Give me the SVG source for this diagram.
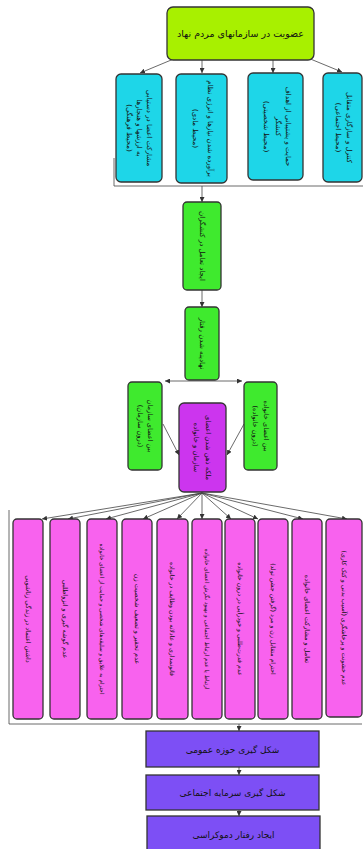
<svg xmlns="http://www.w3.org/2000/svg" width="363" height="849" viewBox="0 0 363 849">
<defs>
<marker id="ah" viewBox="0 0 6 6" refX="6" refY="3" markerWidth="5" markerHeight="5" orient="auto-start-reverse" markerUnits="userSpaceOnUse">
<path d="M0,0 L6,3 L0,6 z" fill="#333"/>
</marker>
<style>
.bx{stroke:#333;stroke-width:1.3}
.lime{fill:#a8f000}
.cyan{fill:#1ed6e8}
.green{fill:#3fea2e}
.mag{fill:#cc35ee}
.pink{fill:#f862ee}
.pur{fill:#7d4ff5}
.t{font-family:"DejaVu Sans",sans-serif;fill:#111;text-anchor:middle;direction:rtl}
.c line,.c polyline{stroke:#444;stroke-width:0.8;fill:none}
.fr{stroke:#aaa;stroke-width:1;fill:none}
</style>
</defs>
<rect width="363" height="849" fill="#fff"/>

<g class="c" id="connectors">
<line x1="176" y1="58" x2="140" y2="73" marker-end="url(#ah)"/>
<line x1="202" y1="60" x2="202" y2="73" marker-end="url(#ah)"/>
<line x1="273" y1="60" x2="273" y2="73" marker-end="url(#ah)"/>
<line x1="308" y1="58" x2="342" y2="72" marker-end="url(#ah)"/>
<polyline class="fr" points="114,158 114,186 363,186"/>
<line x1="202" y1="186" x2="202" y2="202" marker-end="url(#ah)"/>
<line x1="202" y1="290" x2="202" y2="307" marker-end="url(#ah)"/>
<line x1="165" y1="381" x2="242" y2="381" marker-start="url(#ah)" marker-end="url(#ah)"/>
<line x1="163" y1="424" x2="179" y2="455" marker-end="url(#ah)"/>
<line x1="244" y1="424" x2="227" y2="455" marker-end="url(#ah)"/>
<line x1="202" y1="493" x2="42" y2="519" marker-end="url(#ah)"/>
<line x1="202" y1="493" x2="68" y2="519" marker-end="url(#ah)"/>
<line x1="202" y1="493" x2="106" y2="519" marker-end="url(#ah)"/>
<line x1="202" y1="493" x2="143" y2="519" marker-end="url(#ah)"/>
<line x1="202" y1="493" x2="177" y2="519" marker-end="url(#ah)"/>
<line x1="202" y1="493" x2="202" y2="519" marker-end="url(#ah)"/>
<line x1="202" y1="493" x2="231" y2="519" marker-end="url(#ah)"/>
<line x1="202" y1="493" x2="258" y2="519" marker-end="url(#ah)"/>
<line x1="202" y1="493" x2="303" y2="519" marker-end="url(#ah)"/>
<line x1="202" y1="493" x2="347" y2="519" marker-end="url(#ah)"/>
<polyline class="fr" points="9,510 9,724 362,724"/>
<line x1="239" y1="724" x2="239" y2="731" marker-end="url(#ah)"/>
<line x1="239" y1="767" x2="239" y2="775" marker-end="url(#ah)"/>
<line x1="239" y1="810" x2="239" y2="816" marker-end="url(#ah)"/>
</g>

<g id="n-top">
<rect class="bx lime" x="167" y="7" width="147" height="53" rx="6"/>
<text class="t" x="240.5" y="37" font-size="9.5">عضویت در سازمانهای مردم نهاد</text>
</g>

<g id="n-c1">
<rect class="bx cyan" x="116" y="74" width="46" height="108" rx="5"/>
<text class="t" transform="translate(139,128) rotate(90)" font-size="7"><tspan x="0" y="-7.5">مشارکت اعضا در دستیابی</tspan><tspan x="0" y="2.5">به ارزشها و هنجارها</tspan><tspan x="0" y="12.5">(محیط فرهنگی)</tspan></text>
</g>
<g id="n-c2">
<rect class="bx cyan" x="176" y="74" width="51" height="109" rx="5"/>
<text class="t" transform="translate(201.5,128.5) rotate(90)" font-size="7"><tspan x="0" y="-6">برآورده شدن نیازها و انرژی نظام</tspan><tspan x="0" y="9">(محیط مادی)</tspan></text>
</g>
<g id="n-c3">
<rect class="bx cyan" x="248" y="73" width="55" height="107" rx="5"/>
<text class="t" transform="translate(275.5,126.5) rotate(90)" font-size="7"><tspan x="0" y="-10.5">حمایت و پشتیبانی از اهداف</tspan><tspan x="0" y="-0.5">کنشگر</tspan><tspan x="0" y="12">(محیط شخصیتی)</tspan></text>
</g>
<g id="n-c4">
<rect class="bx cyan" x="323" y="73" width="39" height="109" rx="5"/>
<text class="t" transform="translate(342.5,127.5) rotate(90)" font-size="7"><tspan x="0" y="-4">کنترل و سازگاری متقابل</tspan><tspan x="0" y="7">(محیط اجتماعی)</tspan></text>
</g>

<g id="n-g1">
<rect class="bx green" x="183" y="202" width="38" height="88" rx="4"/>
<text class="t" transform="translate(202,246) rotate(90)" font-size="7" y="2.5">ایجاد تعامل در کنشگران</text>
</g>
<g id="n-g2">
<rect class="bx green" x="185" y="307" width="34" height="73" rx="4"/>
<text class="t" transform="translate(202,343.5) rotate(90)" font-size="7" y="2.5">نهادینه شدن رفتار</text>
</g>
<g id="n-gl">
<rect class="bx green" x="128" y="382" width="34" height="88" rx="4"/>
<text class="t" transform="translate(145,426) rotate(90)" font-size="6.6"><tspan x="0" y="-3">بین اعضای سازمان</tspan><tspan x="0" y="7.5">(درون سازمان)</tspan></text>
</g>
<g id="n-gr">
<rect class="bx green" x="244" y="382" width="33" height="88" rx="4"/>
<text class="t" transform="translate(260.5,426) rotate(90)" font-size="6.6"><tspan x="0" y="-3">بین اعضای خانواده</tspan><tspan x="0" y="7.5">(درون خانواده)</tspan></text>
</g>
<g id="n-m">
<rect class="bx mag" x="179" y="403" width="47" height="89" rx="5"/>
<text class="t" transform="translate(202.5,447.5) rotate(90)" font-size="6.8"><tspan x="0" y="-3">ملکه ذهن شدن اعضای</tspan><tspan x="0" y="8.5">سازمان و خانواده</tspan></text>
</g>

<g id="n-p1">
<rect class="bx pink" x="13" y="519" width="30" height="200" rx="4"/>
<text class="t" transform="translate(28,619) rotate(90)" font-size="6.5" y="2.3">داشتن اعتماد در زندگی زناشویی</text>
</g>
<g id="n-p2">
<rect class="bx pink" x="50" y="519" width="30" height="200" rx="4"/>
<text class="t" transform="translate(65,619) rotate(90)" font-size="6.5" y="2.3">عدم گوشه گیری و انزواطلبی</text>
</g>
<g id="n-p3">
<rect class="bx pink" x="87" y="519" width="30" height="200" rx="4"/>
<text class="t" transform="translate(102,619) rotate(90)" font-size="5.7" y="2">احترام به علایق و سلیقه‌های شخصی و حمایت از اعضای خانواده</text>
</g>
<g id="n-p4">
<rect class="bx pink" x="122" y="519" width="30" height="200" rx="4"/>
<text class="t" transform="translate(137,619) rotate(90)" font-size="6.5" y="2.3">عدم تحقیر و تضعیف شخصیت زن</text>
</g>
<g id="n-p5">
<rect class="bx pink" x="157" y="519" width="31" height="200" rx="4"/>
<text class="t" transform="translate(172.5,619) rotate(90)" font-size="6.2" y="2.2">قانونمداری و عادلانه بودن وظایف در خانواده</text>
</g>
<g id="n-p6">
<rect class="bx pink" x="192" y="519" width="30" height="200" rx="4"/>
<text class="t" transform="translate(207,619) rotate(90)" font-size="5.7" y="2">ارتباط یا عدم ارتباط اجتماعی و بهبود نگرش اعضای خانواده</text>
</g>
<g id="n-p7">
<rect class="bx pink" x="225" y="519" width="30" height="200" rx="4"/>
<text class="t" transform="translate(240,619) rotate(90)" font-size="6.2" y="2.2">عدم قدرت‌طلبی و خودرأیی در درون خانواده</text>
</g>
<g id="n-p8">
<rect class="bx pink" x="258" y="519" width="30" height="200" rx="4"/>
<text class="t" transform="translate(273,619) rotate(90)" font-size="6.2" y="2.2">احترام متقابل زن و مرد (گرفتن جشن تولد)</text>
</g>
<g id="n-p9">
<rect class="bx pink" x="292" y="519" width="30" height="200" rx="4"/>
<text class="t" transform="translate(307,619) rotate(90)" font-size="6.5" y="2.3">تعامل و مشارکت اعضای خانواده</text>
</g>
<g id="n-p10">
<rect class="bx pink" x="326" y="519" width="36" height="198" rx="4"/>
<text class="t" transform="translate(344,618) rotate(90)" font-size="6.2" y="2.2">عدم خشونت و پرخاشگری (آسیب بدنی و کتک کاری)</text>
</g>

<g id="n-b1">
<rect class="bx pur" x="146" y="731" width="173" height="36"/>
<text class="t" x="232.5" y="752.5" font-size="9">شکل گیری حوزه عمومی</text>
</g>
<g id="n-b2">
<rect class="bx pur" x="146" y="775" width="173" height="35"/>
<text class="t" x="232.5" y="796" font-size="9">شکل گیری سرمایه اجتماعی</text>
</g>
<g id="n-b3">
<rect class="bx pur" x="147" y="816" width="173" height="36"/>
<text class="t" x="233.5" y="838" font-size="9">ایجاد رفتار دموکراسی</text>
</g>
</svg>
